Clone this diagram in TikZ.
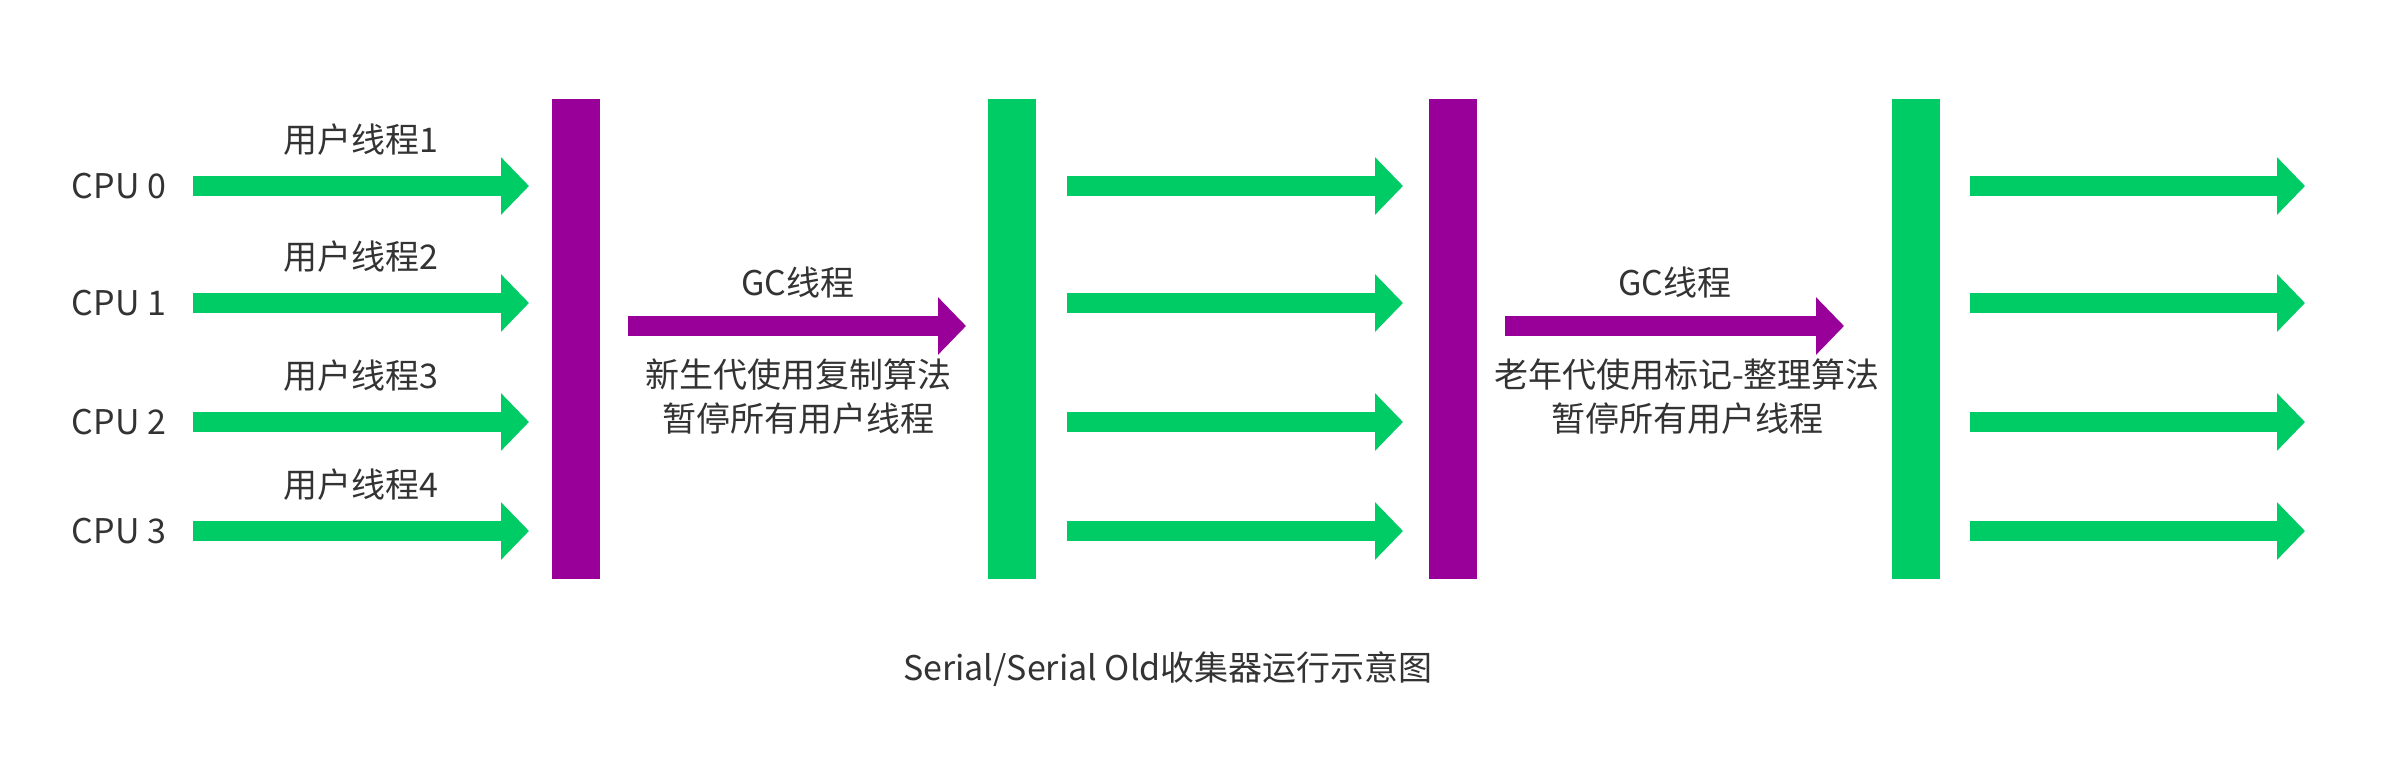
\documentclass[tikz,border=0pt]{standalone}
\usepackage{fontspec}
\setmainfont{Noto Sans CJK SC}
\usetikzlibrary{arrows.meta}
\definecolor{ggreen}{HTML}{00CC66}
\definecolor{gpurple}{HTML}{990099}
\definecolor{txt}{HTML}{333333}
\begin{document}
\begin{tikzpicture}[x=1pt,y=-1pt,
  bar/.style={rectangle, draw=none, inner sep=0pt, minimum width=48pt, minimum height=480pt},
  fatarrow/.style={line width=20pt, -{Triangle[length=28pt,width=56pt]}},
  lbl/.style={text=txt, font=\fontsize{34}{44}\selectfont, inner sep=0pt, align=center},
]
\useasboundingbox[fill=white] (0,0) rectangle (2384,760);
% bars
\node[bar, fill=gpurple] (p1) at (576,339) {};
\node[bar, fill=ggreen]  (g1) at (1012,339) {};
\node[bar, fill=gpurple] (p2) at (1453,339) {};
\node[bar, fill=ggreen]  (g2) at (1916,339) {};
% rows
\foreach \i/\y/\n in {0/186/1,1/303/2,2/422/3,3/531/4}{
  \node[lbl] (cpu\i) at (119,\y) {CPU \i};
  \node[lbl] (ut\i) at (361,\y-46) {用户线程\n};
  \coordinate (as\i) at (193,\y);
  \coordinate (ae\i) at (529,\y);
  \coordinate (bs\i) at (1067,\y);
  \coordinate (be\i) at (1403,\y);
  \coordinate (cs\i) at (1970,\y);
  \coordinate (ce\i) at (2305,\y);
  \draw[fatarrow, ggreen] (as\i) -- (ae\i);
  \draw[fatarrow, ggreen] (bs\i) -- (be\i);
  \draw[fatarrow, ggreen] (cs\i) -- (ce\i);
}
% GC arrows
\coordinate (gs1) at (628,326);
\coordinate (ge1) at (966,326);
\coordinate (gs2) at (1505,326);
\coordinate (ge2) at (1844,326);
\draw[fatarrow, gpurple] (gs1) -- (ge1);
\draw[fatarrow, gpurple] (gs2) -- (ge2);
\node[lbl] (gc1) at (798,283) {GC线程};
\node[lbl] (gc2) at (1675,283) {GC线程};
\node[lbl] (d1) at (798,397) {新生代使用复制算法\\暂停所有用户线程};
\node[lbl] (d2) at (1687,397) {老年代使用标记-整理算法\\暂停所有用户线程};
% caption
\node[lbl] (cap) at (1168,669) {Serial/Serial Old收集器运行示意图};
\end{tikzpicture}
\end{document}
